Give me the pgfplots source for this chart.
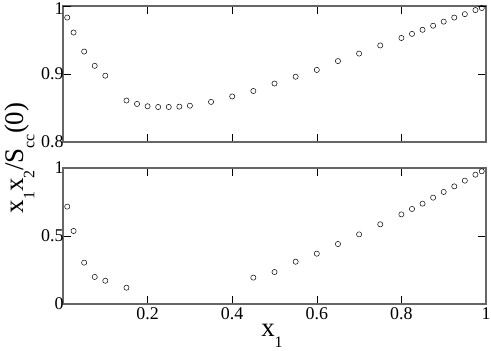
\documentclass[border=0pt]{standalone}
\usepackage{pgfplots}
\pgfplotsset{compat=1.18}
\usepackage{fontspec}
\setmainfont{Liberation Serif}

% grace-style deep subscripts
\newcommand{\sub}[1]{\raisebox{-0.42em}{\fontsize{16}{16}\selectfont #1}}

\pgfplotsset{
  panel/.style={
    scale only axis, width=423bp, height=136bp,
    xmin=0, xmax=1, xtick={0.2,0.4,0.6,0.8,1},
    tick align=inside, major tick length=8bp,
    axis line style={draw=black!60, line width=1.2bp},
    tick style={black, line width=0.6bp},
    ticklabel style={font=\fontsize{18}{18}\selectfont},
    /pgf/number format/assume math mode=true,
    yticklabel={\pgfmathprintnumber[assume math mode=true]{\tick}},
    yticklabel style={xshift=4bp},
    clip=false,
  },
  pts/.style={only marks, mark=o, mark size=2.6bp, black,
    mark options={line width=0.5bp}},
}

\begin{document}
\begin{tikzpicture}
\begin{axis}[panel, at={(63bp,-6bp)}, anchor=north west,
  ymin=0.8, ymax=1, ytick={0.8,0.9}, xticklabels={},
  extra y ticks={1},
  extra y tick style={yticklabel style={yshift=-2.5bp}}]
\addplot[pts] coordinates {
  (0.01,0.983) (0.025,0.961) (0.05,0.933) (0.075,0.912) (0.1,0.8975)
  (0.15,0.861) (0.175,0.856) (0.2,0.8525) (0.225,0.8515) (0.25,0.8515)
  (0.275,0.852) (0.3,0.8534) (0.35,0.859) (0.4,0.867) (0.45,0.875)
  (0.5,0.886) (0.55,0.896) (0.6,0.906) (0.65,0.919) (0.7,0.930)
  (0.75,0.942) (0.8,0.953) (0.825,0.959) (0.85,0.965) (0.875,0.971)
  (0.9,0.977) (0.925,0.983) (0.95,0.988) (0.975,0.994) (0.99,0.997)
};
\end{axis}
\begin{axis}[panel, at={(63bp,-168bp)}, anchor=north west,
  ymin=0, ymax=1, ytick={0,0.5,1},
  xticklabel={\pgfmathprintnumber[assume math mode=true]{\tick}}]
\addplot[pts] coordinates {
  (0.01,0.716) (0.025,0.537) (0.05,0.304) (0.075,0.199) (0.1,0.171)
  (0.15,0.120) (0.45,0.194) (0.5,0.235) (0.55,0.311) (0.6,0.370)
  (0.65,0.441) (0.7,0.512) (0.75,0.586) (0.8,0.659) (0.825,0.699)
  (0.85,0.738) (0.875,0.782) (0.9,0.824) (0.925,0.865) (0.95,0.907)
  (0.975,0.951) (0.99,0.976)
};
\end{axis}
\node[rotate=90, anchor=base, inner sep=0pt, font=\fontsize{27}{27}\selectfont]
  at (23bp,-158bp) {x\sub{1}x\sub{2}/S\sub{cc}(0)};
\node[anchor=base, inner sep=0pt, font=\fontsize{27}{27}\selectfont]
  at (272bp,-336bp) {x\sub{1}};
\pgfresetboundingbox
\useasboundingbox (0,0) rectangle (491bp,-351bp);
\end{tikzpicture}
\end{document}
